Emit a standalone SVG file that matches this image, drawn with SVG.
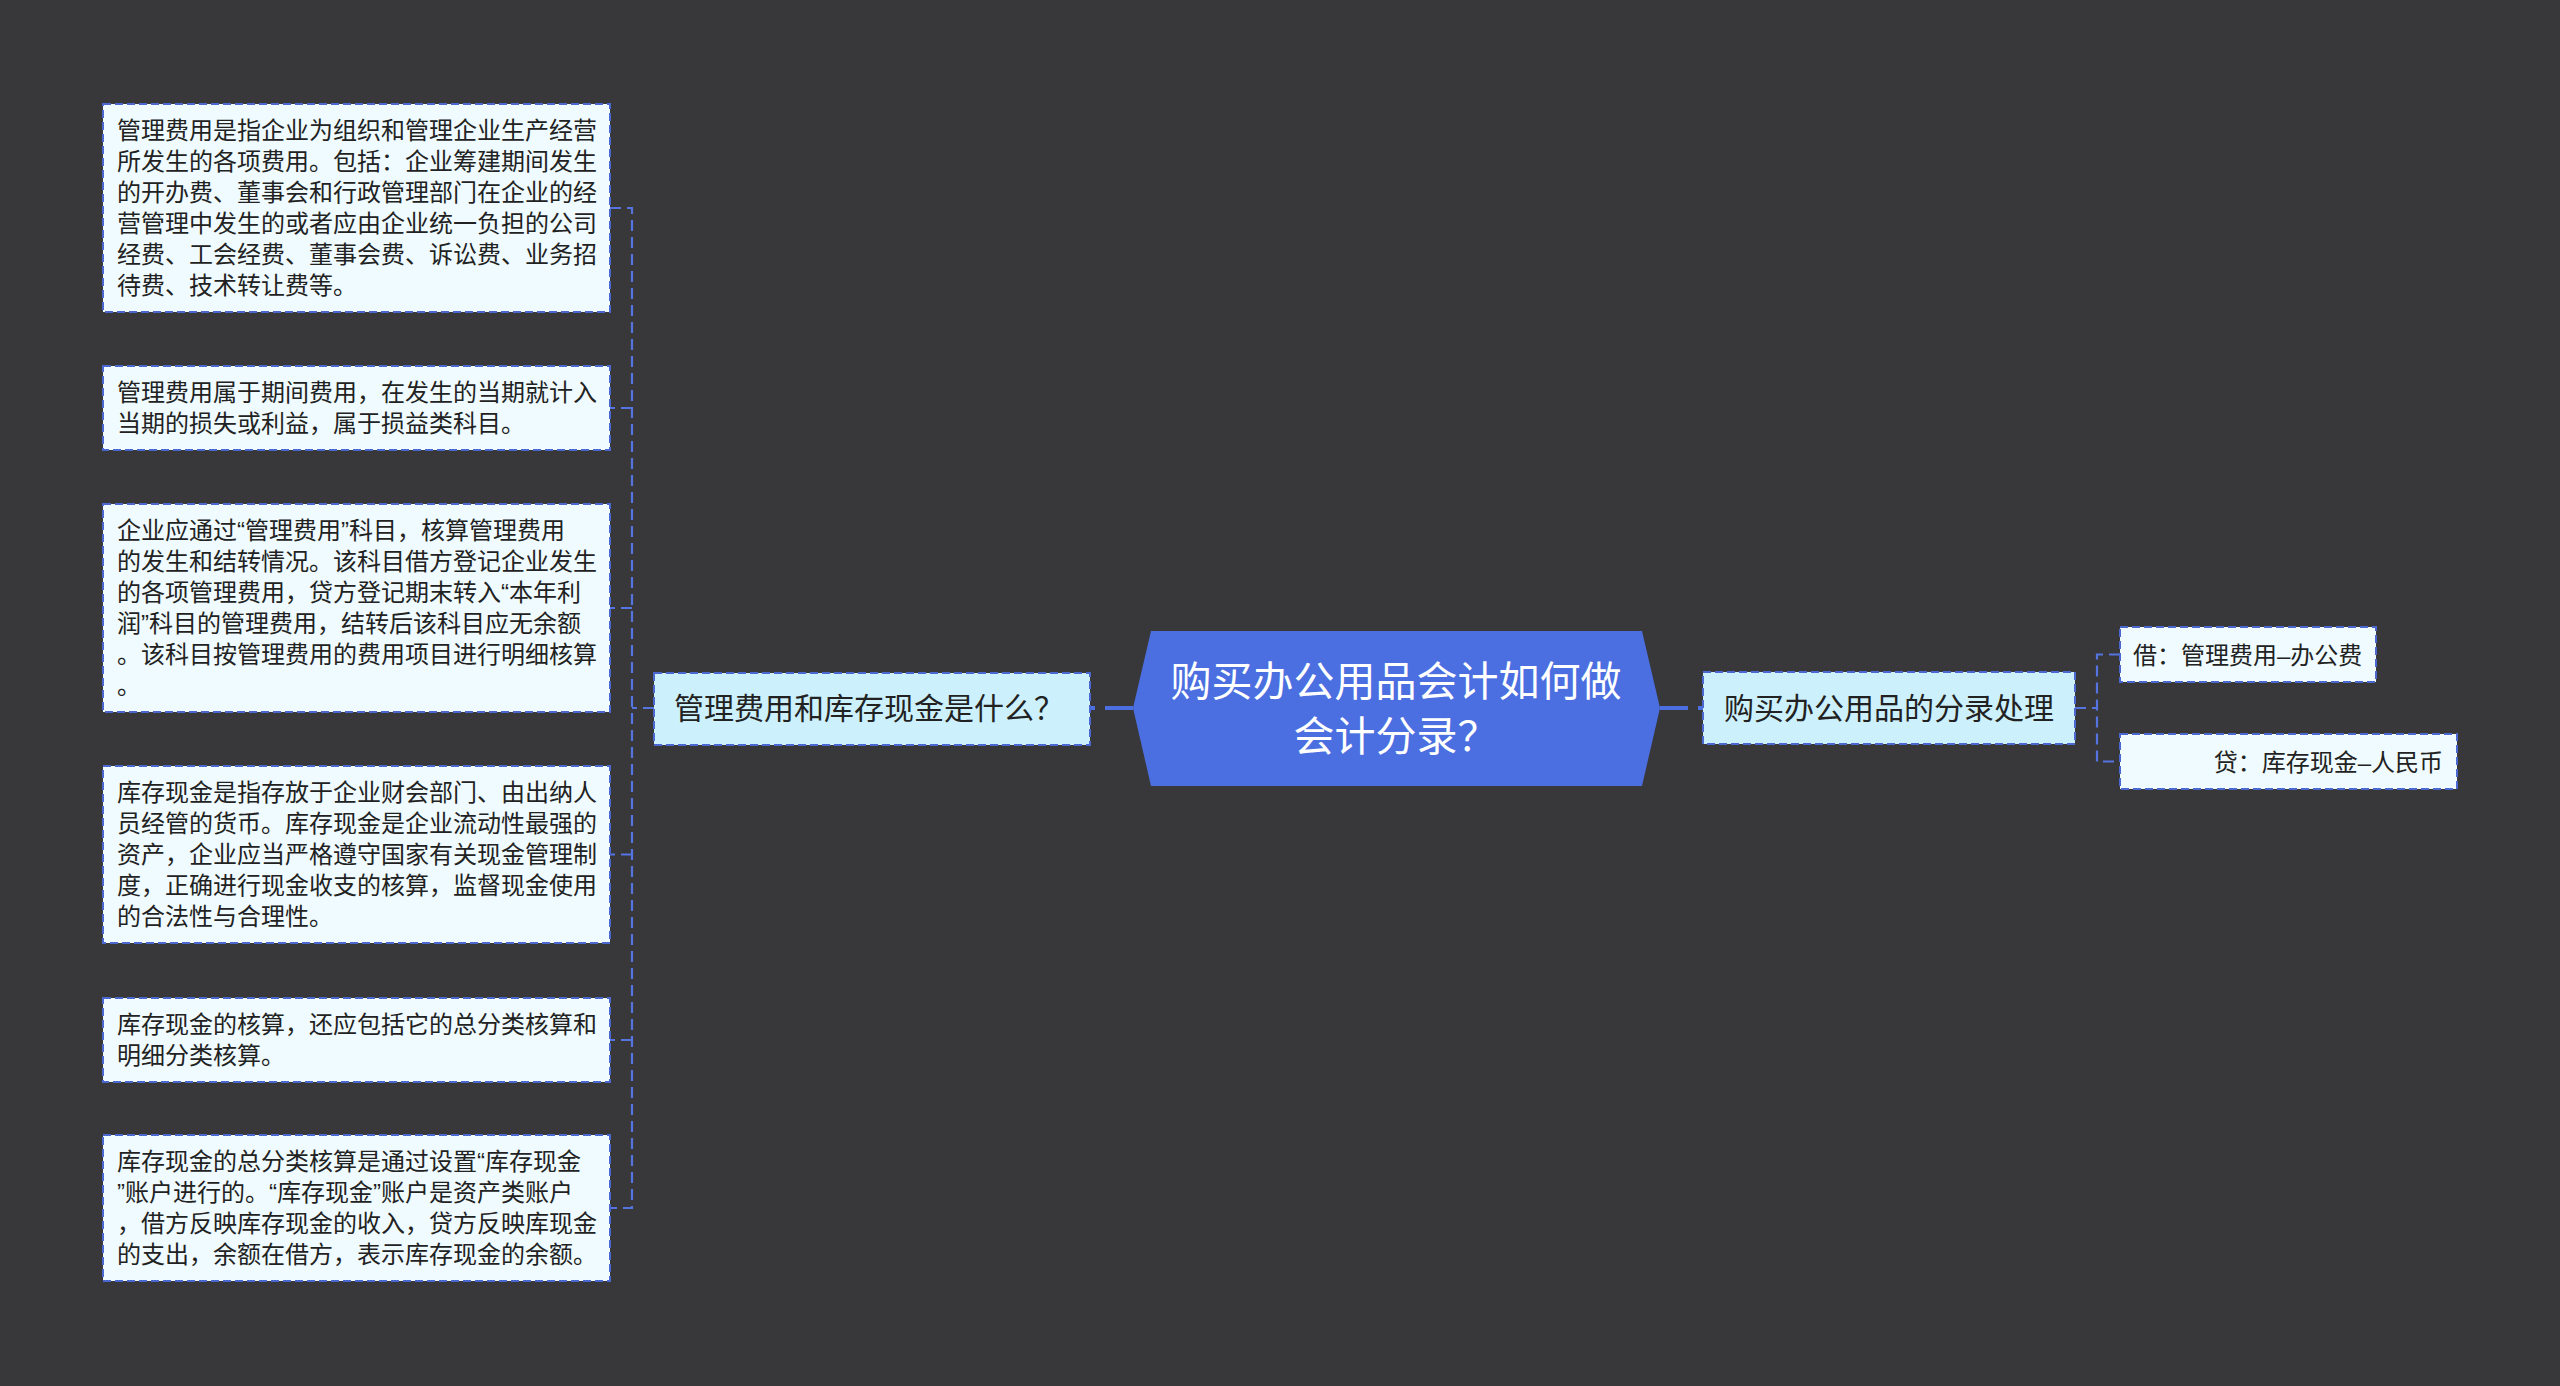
<svg xmlns="http://www.w3.org/2000/svg" width="2560" height="1386" viewBox="0 0 2560 1386">
<style>
.bg{fill:#38373a}
.leaf{fill:#effbfe;stroke:#4a68cf;stroke-width:2;stroke-dasharray:8 4}
.topic{fill:#ccf0fc;stroke:#4a68cf;stroke-width:2;stroke-dasharray:8 4}
.root{fill:#4b6fe0}
.t{font-family:"Liberation Sans","Noto Sans CJK SC",sans-serif;fill:#222222;dominant-baseline:central}
.s{font-size:24px}
.m{font-size:30px}
.r{font-size:41px;fill:#ffffff;text-anchor:middle}
.c{fill:none;stroke:#5574e0;stroke-width:2.2;stroke-dasharray:11 6}
.main{fill:none;stroke:#4b6fe0;stroke-width:4;stroke-dasharray:28 10}
</style>
<rect class="bg" x="0" y="0" width="2560" height="1386"/>
<g id="connectors">
<path class="main" d="M1133 708 L1090 708"/>
<path class="main" d="M1660 708 L1703 708"/>
<path class="c" d="M654 708 L632 708"/>
<path class="c" d="M610 208 L632 208 L632 1208 L610 1208"/>
<path class="c" d="M632 408 L610 408"/>
<path class="c" d="M632 608 L610 608"/>
<path class="c" d="M632 854.5 L610 854.5"/>
<path class="c" d="M632 1040 L610 1040"/>
<path class="c" d="M2075 708 L2097 708"/>
<path class="c" d="M2120 654.5 L2097 654.5 L2097 761.5 L2120 761.5"/>
</g>
<g id="root">
<polygon class="root" points="1151,631 1642,631 1660,708 1642,786 1151,786 1133,708"/>
<text class="t r" x="1396" y="682">购买办公用品会计如何做</text>
<text class="t r" x="1396" y="737">会计分录？</text>
</g>
<g id="topic-left">
<rect class="topic" x="654" y="673" width="436" height="72"/>
<text class="t m" x="674" y="708">管理费用和库存现金是什么？</text>
</g>
<g id="topic-right">
<rect class="topic" x="1703" y="672" width="372" height="72"/>
<text class="t m" x="1889" y="708" text-anchor="middle">购买办公用品的分录处理</text>
</g>
<g id="leaf-debit">
<rect class="leaf" x="2120" y="627" width="256" height="55"/>
<text class="t s" x="2133" y="655">借：管理费用–办公费</text>
</g>
<g id="leaf-credit">
<rect class="leaf" x="2120" y="734" width="337" height="55"/>
<text class="t s" x="2443" y="762" text-anchor="end">贷：库存现金–人民币</text>
</g>
<g id="leaf-1">
<rect class="leaf" x="103" y="104" width="507" height="208"/>
<text class="t s" x="117" y="130.5">管理费用是指企业为组织和管理企业生产经营</text>
<text class="t s" x="117" y="161.5">所发生的各项费用。包括：企业筹建期间发生</text>
<text class="t s" x="117" y="192.5">的开办费、董事会和行政管理部门在企业的经</text>
<text class="t s" x="117" y="223.5">营管理中发生的或者应由企业统一负担的公司</text>
<text class="t s" x="117" y="254.5">经费、工会经费、董事会费、诉讼费、业务招</text>
<text class="t s" x="117" y="285.5">待费、技术转让费等。</text>
</g>
<g id="leaf-2">
<rect class="leaf" x="103" y="366" width="507" height="84"/>
<text class="t s" x="117" y="392.5">管理费用属于期间费用，在发生的当期就计入</text>
<text class="t s" x="117" y="423.5">当期的损失或利益，属于损益类科目。</text>
</g>
<g id="leaf-3">
<rect class="leaf" x="103" y="504" width="507" height="208"/>
<text class="t s" x="117" y="530.5">企业应通过“管理费用”科目，核算管理费用</text>
<text class="t s" x="117" y="561.5">的发生和结转情况。该科目借方登记企业发生</text>
<text class="t s" x="117" y="592.5">的各项管理费用，贷方登记期末转入“本年利</text>
<text class="t s" x="117" y="623.5">润”科目的管理费用，结转后该科目应无余额</text>
<text class="t s" x="117" y="654.5">。该科目按管理费用的费用项目进行明细核算</text>
<text class="t s" x="117" y="685.5">。</text>
</g>
<g id="leaf-4">
<rect class="leaf" x="103" y="766" width="507" height="177"/>
<text class="t s" x="117" y="792.5">库存现金是指存放于企业财会部门、由出纳人</text>
<text class="t s" x="117" y="823.5">员经管的货币。库存现金是企业流动性最强的</text>
<text class="t s" x="117" y="854.5">资产，企业应当严格遵守国家有关现金管理制</text>
<text class="t s" x="117" y="885.5">度，正确进行现金收支的核算，监督现金使用</text>
<text class="t s" x="117" y="916.5">的合法性与合理性。</text>
</g>
<g id="leaf-5">
<rect class="leaf" x="103" y="998" width="507" height="84"/>
<text class="t s" x="117" y="1024.5">库存现金的核算，还应包括它的总分类核算和</text>
<text class="t s" x="117" y="1055.5">明细分类核算。</text>
</g>
<g id="leaf-6">
<rect class="leaf" x="103" y="1135" width="507" height="146"/>
<text class="t s" x="117" y="1161.5">库存现金的总分类核算是通过设置“库存现金</text>
<text class="t s" x="117" y="1192.5">”账户进行的。“库存现金”账户是资产类账户</text>
<text class="t s" x="117" y="1223.5">，借方反映库存现金的收入，贷方反映库现金</text>
<text class="t s" x="117" y="1254.5">的支出，余额在借方，表示库存现金的余额。</text>
</g>
</svg>
